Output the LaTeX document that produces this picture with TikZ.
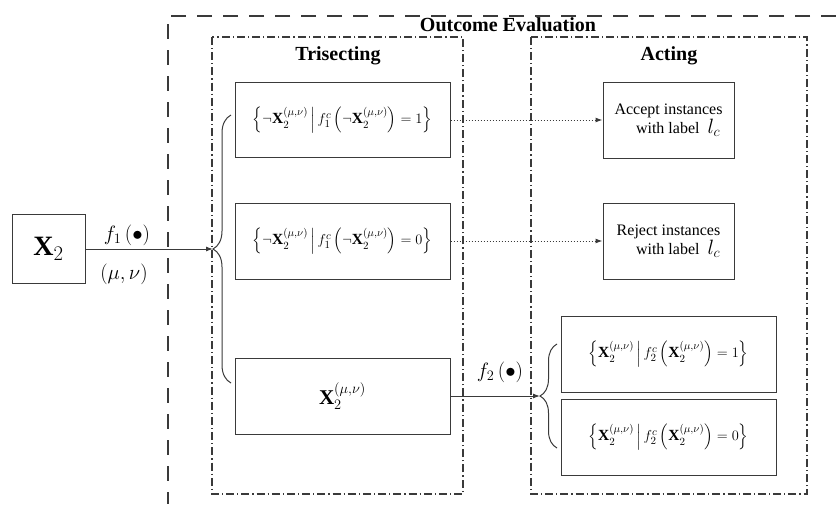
\documentclass[tikz,border=0pt]{standalone}
\usepackage{amsmath}
\usepackage{fontspec}
\setmainfont{Liberation Serif}
\usetikzlibrary{arrows.meta,decorations.pathreplacing}
\definecolor{edge}{HTML}{3A3A3A}
\newcommand{\Xmv}{\mathbf{X}_2^{(\mu,\nu)}}

\begin{document}
\begin{tikzpicture}[x=1pt,y=-1pt,
    box/.style={draw=edge,line width=1pt,inner sep=0pt,align=center},
    frame/.style={draw=edge,line width=1.2pt,dash pattern=on 8pt off 3pt on 1.2pt off 3pt},
    head/.style={font=\fontsize{20}{24}\selectfont\bfseries},
    set/.style={box,minimum width=215,font=\fontsize{15.5}{18}\selectfont},
    act/.style={box,minimum width=131,font=\fontsize{16}{19}\selectfont},
    lab/.style={font=\fontsize{21}{24}\selectfont},
    tip/.style={-{Latex[length=7pt,width=5pt]},line width=1pt,draw=edge},
    dottip/.style={tip,dotted},
    curly/.style={draw=edge,line width=1pt,decorate}]
  \useasboundingbox (0,0) rectangle (836,504);
  \draw[edge,line width=1.3pt,dash pattern=on 15pt off 11pt] (836,16) -- (168,16) -- (168,504);
  \node[head] (oe) at (508,25) {Outcome Evaluation};
  \draw[frame] (212,37) rectangle (463,494);
  \draw[frame] (531,37) rectangle (807,494);
  \node[head] (tri) at (338,56) {Trisecting};
  \node[head] (acting) at (669,56) {Acting};

  \node[box,minimum width=73,minimum height=69,font=\fontsize{28}{30}\selectfont] (xin) at (48.5,249) {$\mathbf{X}_2$};
  \node[lab] (f1) at (127,235) {$f_1\left(\bullet\right)$};
  \node[lab] (mn) at (124,274) {$\left(\mu,\nu\right)$};

  \node[set,minimum height=75] (tri1) at (342.5,120) {$\left\{\neg\Xmv\,\middle|\,f^{c}_{1}\left(\neg\Xmv\right)=1\right\}$};
  \node[set,minimum height=76] (tri2) at (342.5,241) {$\left\{\neg\Xmv\,\middle|\,f^{c}_{1}\left(\neg\Xmv\right)=0\right\}$};
  \node[set,minimum height=76,font=\fontsize{21}{24}\selectfont] (tri3) at (342.5,396) {$\Xmv$};

  \node[act,minimum height=76] (acc) at (668.5,120) {Accept instances\\\hspace*{1.2em}with label\ \ {\fontsize{21}{21}\selectfont$l_c$}};
  \node[act,minimum height=76] (rej) at (668.5,241) {Reject instances\\\hspace*{1.2em}with label\ \ {\fontsize{21}{21}\selectfont$l_c$}};
  \node[set,minimum height=76] (pos) at (668.5,354) {$\left\{\Xmv\,\middle|\,f^{c}_{2}\left(\Xmv\right)=1\right\}$};
  \node[set,minimum height=76] (neg) at (668.5,437) {$\left\{\Xmv\,\middle|\,f^{c}_{2}\left(\Xmv\right)=0\right\}$};
  \node[lab] (f2) at (500,372) {$f_2\left(\bullet\right)$};

  \draw[curly,decoration={brace,amplitude=18pt}] (231,383) -- (231,115);
  \coordinate (b1) at (213,249);
  \draw[curly,decoration={brace,amplitude=17pt}] (557,448) -- (557,344);
  \coordinate (b2) at (540,396);

  \draw[tip] (xin.east) -- (b1);
  \draw[tip] (tri3.east) -- (b2);
  \draw[dottip] (tri1.east) -- (acc.west);
  \draw[dottip] (tri2.east) -- (rej.west);
\end{tikzpicture}
\end{document}
